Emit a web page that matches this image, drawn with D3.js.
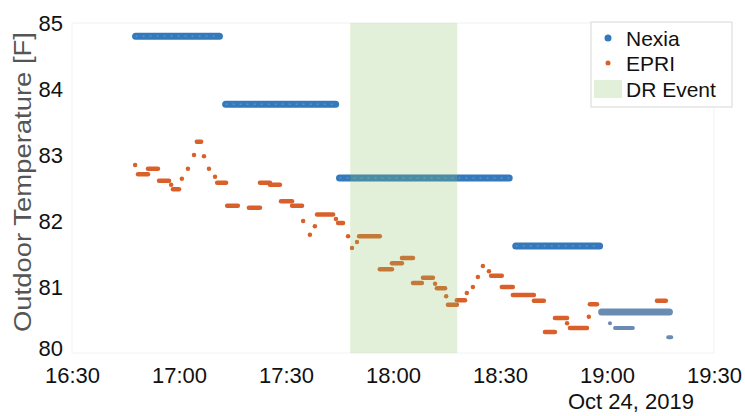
<!DOCTYPE html>
<html><head><meta charset="utf-8">
<script src="https://cdn.jsdelivr.net/npm/d3@7"></script>
<style>
html,body{margin:0;padding:0;background:#fff;}
svg{display:block;font-family:"Liberation Sans",Arial,Helvetica,sans-serif;}
</style></head>
<body><svg id="chart" width="745" height="416"></svg>
<script>
// ---- data ----
const xTickLabels = ["16:30","17:00","17:30","18:00","18:30","19:00","19:30"];
const yTickValues = [80,81,82,83,84,85];
const dateLabel = "Oct 24, 2019";
const yTitle = "Outdoor Temperature [F]";

// Nexia: hourly steps (start, end, value)
const nexiaStart = ["16:47:50","17:13:05","17:45:00","18:34:25"];
const nexiaEnd   = ["17:11:20","17:43:55","18:32:35","18:57:55"];
const nexiaTemp  = [84.80, 83.77, 82.65, 81.62];
// Nexia late readings (denser, after 19:00)
const nexiaLateStart = ["18:58:30","19:00:50","19:02:15","19:17:10"];
const nexiaLateEnd   = ["19:17:30","19:00:50","19:07:15","19:18:00"];
const nexiaLateTemp  = [80.62, 80.45, 80.38, 80.24];

// EPRI readings (start, end, value)
const epriStart = ["16:47:42","16:48:30","16:51:18","16:54:24","16:57:48","16:58:18","17:00:48","17:02:30","17:04:12","17:05:00",
  "17:07:00","17:08:24","17:10:06","17:10:42","17:13:30","17:19:36","17:22:42","17:25:30","17:28:36","17:31:42",
  "17:34:48","17:36:42","17:38:06","17:38:42","17:44:00","17:44:36","17:47:24","17:48:30","17:49:54","17:50:30",
  "17:56:18","17:59:42","18:02:30","18:05:36","18:08:24","18:11:48","18:12:18","18:14:54","18:15:24","18:17:54",
  "18:20:42","18:22:24","18:23:48","18:25:12","18:26:54","18:27:30","18:30:30","18:33:36","18:39:30","18:42:36",
  "18:45:24","18:48:48","18:49:36","18:54:54","18:55:12","19:14:00"];
const epriEnd = ["16:47:42","16:51:18","16:54:06","16:57:12","16:57:48","17:00:00","17:00:48","17:02:30","17:04:12","17:06:12",
  "17:07:00","17:08:24","17:10:06","17:13:12","17:16:30","17:22:42","17:25:30","17:28:18","17:31:42","17:34:30",
  "17:34:48","17:36:42","17:38:06","17:43:12","17:44:00","17:46:00","17:47:24","17:48:30","17:49:54","17:56:18",
  "17:59:42","18:02:30","18:05:36","18:08:06","18:11:12","18:11:48","18:14:36","18:14:54","18:17:54","18:20:12",
  "18:20:42","18:22:24","18:23:48","18:25:12","18:26:54","18:30:30","18:33:36","18:39:30","18:42:18","18:45:24",
  "18:48:48","18:48:48","18:54:24","18:54:54","18:57:12","19:16:30"];
const epriTemp = [82.85,82.71,82.79,82.61,82.55,82.48,82.64,82.79,83.00,83.20,
  82.98,82.79,82.67,82.58,82.23,82.20,82.58,82.55,82.30,82.23,
  82.00,81.79,81.92,82.10,82.03,81.97,81.77,81.59,81.68,81.77,
  81.27,81.36,81.44,81.06,81.14,81.05,80.98,80.86,80.73,80.80,
  80.91,81.00,81.15,81.32,81.24,81.17,81.00,80.88,80.79,80.32,
  80.53,80.45,80.38,80.55,80.74,80.79];

// DR event window
const drStart = "17:48:00";
const drEnd = "18:18:00";

const legendLabels = ["Nexia","EPRI","DR Event"];

// ---- chart ----
const day = "2019-10-24T";
const parse = s => new Date(day + s);
const svg = d3.select("#chart");
const W = 745, H = 416;
const m = {left:72, right:31, top:23, bottom:63};

const x = d3.scaleTime().domain([parse("16:30:00"), parse("19:30:00")]).range([m.left, W - m.right]);
const y = d3.scaleLinear().domain([80, 85]).range([H - m.bottom, m.top]);

const colBlue = "#3479bb", colOrange = "#d9602a", colSlate = "#6a8bb2", colGreen = "rgb(140,196,104)";

// faint box
svg.append("rect").attr("x", m.left).attr("y", m.top)
  .attr("width", x.range()[1]-m.left).attr("height", y(80)-m.top)
  .attr("fill","none").attr("stroke","#f2f2f2").attr("stroke-width",1);

// axes
const xAxis = d3.axisBottom(x)
  .tickValues(xTickLabels.map(t => parse(t + ":00")))
  .tickFormat((d,i) => xTickLabels[i]).tickSize(0).tickPadding(14);
const gx = svg.append("g").attr("transform", `translate(0,${y(80)})`).call(xAxis);
gx.select(".domain").remove();
gx.selectAll("text").attr("font-size", 22).attr("fill", "#111").attr("font-family","Liberation Sans, Arial, sans-serif");

const yAxis = d3.axisLeft(y).tickValues(yTickValues).tickFormat(d3.format("d")).tickSize(0).tickPadding(9);
const gy = svg.append("g").attr("transform", `translate(${m.left},0)`).call(yAxis);
gy.select(".domain").remove();
gy.selectAll("text").attr("font-size", 22).attr("fill", "#111").attr("font-family","Liberation Sans, Arial, sans-serif");
// lowest y label sits slightly raised, as in the reference
gy.selectAll(".tick").filter(d => d === 80).select("text").attr("y", -5);

svg.append("text").attr("x", 631).attr("y", 409).attr("text-anchor","middle")
  .attr("font-size", 22).attr("fill","#111").text(dateLabel);

svg.append("text").attr("transform", "translate(31,182) rotate(-90)")
  .attr("text-anchor","middle").attr("font-size", 23).attr("fill","#555")
  .attr("textLength", 300).attr("lengthAdjust","spacingAndGlyphs").text(yTitle);

// Nexia
const nexia = nexiaTemp.map((v,i) => ({s: parse(nexiaStart[i]), e: parse(nexiaEnd[i]), v}));
svg.append("g").selectAll("line").data(nexia).join("line")
  .attr("x1", d => x(d.s)).attr("x2", d => x(d.e))
  .attr("y1", d => y(d.v)).attr("y2", d => y(d.v))
  .attr("stroke", colBlue).attr("stroke-width", 7).attr("stroke-linecap","round");
svg.append("g").selectAll("line").data(nexia).join("line")
  .attr("x1", d => x(d.s)).attr("x2", d => x(d.e))
  .attr("y1", d => y(d.v)).attr("y2", d => y(d.v))
  .attr("stroke", "#5592cb").attr("stroke-width", 1.5).attr("stroke-dasharray","2,5");

const nexiaLate = nexiaLateTemp.map((v,i) => ({s: parse(nexiaLateStart[i]), e: parse(nexiaLateEnd[i]), v}));
svg.append("g").selectAll("line").data(nexiaLate).join("line")
  .attr("x1", d => x(d.s)).attr("x2", d => x(d.e))
  .attr("y1", d => y(d.v)).attr("y2", d => y(d.v))
  .attr("stroke", colSlate).attr("stroke-width", (d,i) => i === 0 ? 7 : 4).attr("stroke-linecap","round");

// EPRI
const epri = epriTemp.map((v,i) => ({s: parse(epriStart[i]), e: parse(epriEnd[i]), v}));
svg.append("g").selectAll("line").data(epri).join("line")
  .attr("x1", d => x(d.s)).attr("x2", d => x(d.e))
  .attr("y1", d => y(d.v)).attr("y2", d => y(d.v))
  .attr("stroke", colOrange).attr("stroke-width", 4.5).attr("stroke-linecap","round");

// DR event shade (on top, translucent)
svg.append("rect").attr("x", x(parse(drStart))).attr("y", y(85))
  .attr("width", x(parse(drEnd)) - x(parse(drStart))).attr("height", y(80) - y(85))
  .attr("fill", colGreen).attr("fill-opacity", 0.25);

// legend
const lg = svg.append("g").attr("transform", "translate(591,22)");
lg.append("rect").attr("width", 141).attr("height", 85).attr("fill","#fff").attr("stroke","#d8d8d8");
const rowY = [16, 41, 67];
lg.append("circle").attr("cx", 17).attr("cy", rowY[0]).attr("r", 3.5).attr("fill", colBlue);
lg.append("circle").attr("cx", 17).attr("cy", rowY[1]).attr("r", 2.5).attr("fill", colOrange);
lg.append("rect").attr("x", 3).attr("y", rowY[2]-9).attr("width", 28).attr("height", 18)
  .attr("fill", colGreen).attr("fill-opacity", 0.25);
lg.selectAll("text.l").data(legendLabels).join("text").attr("class","l")
  .attr("x", 35).attr("y", (d,i) => rowY[i] + 7.5)
  .attr("font-size", 21).attr("fill","#111").text(d => d);
</script></body></html>
